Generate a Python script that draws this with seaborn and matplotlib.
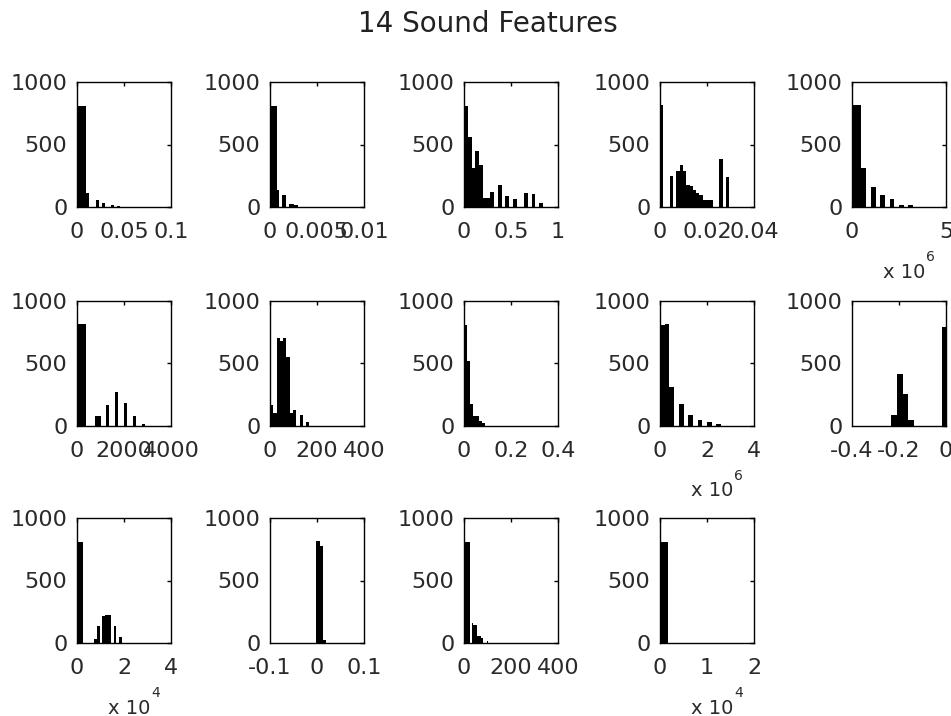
import numpy as np
import pandas as pd
import matplotlib
matplotlib.use("Agg")
import matplotlib.pyplot as plt
import seaborn as sns

# ---------------- data (histogram counts per bin) ----------------
f1_counts = [810, 810, 810, 115, 0, 0, 60, 0, 32, 0, 0, 19, 0, 10]
f2_counts = [808, 808, 808, 133, 0, 93, 93, 0, 21, 21, 13, 13]
f3_counts = [812, 563, 310, 450, 340, 75, 75, 120, 0, 173, 0, 85, 0, 61, 0, 0, 115, 0, 107, 0, 32]
f4_counts = [813, 0, 0, 245, 0, 288, 333, 288, 173, 165, 133, 110, 93, 53, 59, 59, 0, 0, 381, 0, 240]
f5_counts = [813, 813, 315, 0, 160, 0, 93, 0, 67, 0, 19, 0, 19]
f6_counts = [816, 816, 816, 0, 0, 0, 76, 76, 0, 0, 171, 0, 0, 268, 0, 0, 184, 0, 0, 76, 0, 0, 18]
f7_counts = [171, 103, 703, 680, 703, 553, 100, 129, 0, 84, 0, 32]
f8_counts = [810, 516, 179, 82, 82, 40, 20]
f9_counts = [808, 813, 308, 0, 176, 0, 89, 0, 50, 0, 32, 0, 18]
f10_counts = [0, 0, 0, 0, 0, 0, 0, 84, 418, 255, 45, 0, 0, 0, 0, 0, 795]
f11_counts = [812, 812, 0, 0, 0, 0, 35, 134, 0, 214, 222, 228, 0, 134, 0, 48]
f12_counts = [818, 777, 21]
f13_counts = [812, 812, 812, 0, 161, 148, 148, 54, 54, 40, 0, 0, 13]
f14_counts = [812, 812]

bin_starts = [0, 0, 0, 0, 0, 0, 0, 0, 0, -0.4, 0, -0.0015, 0, 0]
bin_widths = [0.0033, 0.00025, 0.04, 0.0014, 0.25e6, 125, 14, 0.0125, 0.2e6,
              0.024, 0.12e4, 0.007, 8, 0.08e4]

x_limits = [(0, 0.1), (0, 0.01), (0, 1), (0, 0.04), (0, 5e6), (0, 4000), (0, 400),
            (0, 0.4), (0, 4e6), (-0.4, 0), (0, 4e4), (-0.1, 0.1), (0, 400), (0, 2e4)]
x_ticks = [[0, 0.05, 0.1], [0, 0.005, 0.01], [0, 0.5, 1], [0, 0.02, 0.04], [0, 5e6],
           [0, 2000, 4000], [0, 200, 400], [0, 0.2, 0.4], [0, 2e6, 4e6],
           [-0.4, -0.2, 0], [0, 2e4, 4e4], [-0.1, 0, 0.1], [0, 200, 400], [0, 1e4, 2e4]]
x_tick_labels = [["0", "0.05", "0.1"], ["0", "0.005", "0.01"], ["0", "0.5", "1"],
                 ["0", "0.02", "0.04"], ["0", "5"], ["0", "2000", "4000"],
                 ["0", "200", "400"], ["0", "0.2", "0.4"], ["0", "2", "4"],
                 ["-0.4", "-0.2", "0"], ["0", "2", "4"], ["-0.1", "0", "0.1"],
                 ["0", "200", "400"], ["0", "1", "2"]]
x_exponents = [None, None, None, None, "6", None, None, None, "6", None, "4", None, None, "4"]

y_ticks = [0, 500, 1000]
y_tick_labels = ["0", "500", "1000"]
title = "14 Sound Features"

all_counts = [f1_counts, f2_counts, f3_counts, f4_counts, f5_counts, f6_counts, f7_counts,
              f8_counts, f9_counts, f10_counts, f11_counts, f12_counts, f13_counts, f14_counts]

# ---------------- layout ----------------
sns.set_theme(style="white")
plt.rcParams["font.family"] = ["DejaVu Sans"]

W, H = 951, 716
fig = plt.figure(figsize=(W / 100, H / 100), dpi=100)
fig.patch.set_facecolor("white")

col_left_px = [77, 270, 464, 660, 852]
row_bottom_px = [207, 426, 643]
ax_w_px, ax_h_px = 94, 125
text_color = "#2a2a2a"

for i, counts in enumerate(all_counts):
    row, col = divmod(i, 5)
    ax = fig.add_axes([col_left_px[col] / W, 1 - row_bottom_px[row] / H,
                       ax_w_px / W, ax_h_px / H])
    edges = [bin_starts[i] + bin_widths[i] * k for k in range(len(counts) + 1)]
    centers = [edges[k] + bin_widths[i] / 2 for k in range(len(counts))]
    df = pd.DataFrame({"value": centers, "count": counts})
    sns.histplot(data=df, x="value", weights="count", bins=edges, ax=ax,
                 color="black", alpha=1, linewidth=0, edgecolor="black")
    ax.set_xlim(*x_limits[i])
    ax.set_ylim(0, 1000)
    ax.set_xticks(x_ticks[i])
    ax.set_xticklabels(x_tick_labels[i])
    ax.set_yticks(y_ticks)
    ax.set_yticklabels(y_tick_labels)
    ax.set_xlabel("")
    ax.set_ylabel("")
    ax.set_facecolor("white")
    for sp in ax.spines.values():
        sp.set_visible(True)
        sp.set_color("black")
        sp.set_linewidth(1.0)
    ax.tick_params(axis="both", direction="in", length=3, width=1, colors="black",
                   labelcolor=text_color, labelsize=16, top=True, right=True)
    ax.tick_params(axis="x", pad=11)
    ax.tick_params(axis="y", pad=7)
    if x_exponents[i] is not None:
        t = ax.text(0.56, -0.52, "x 10", transform=ax.transAxes, ha="center",
                    va="center", fontsize=14, color=text_color)
        ax.annotate(x_exponents[i], xy=(1, 1), xycoords=t, xytext=(0, -1),
                    textcoords="offset points", ha="left", va="bottom",
                    fontsize=10, color=text_color)

fig.text(488 / W, 1 - 24 / H, title, ha="center", va="center", fontsize=20,
         color="#222222", family=["DejaVu Sans"])

fig.savefig("out.png", dpi=100, facecolor="white")
